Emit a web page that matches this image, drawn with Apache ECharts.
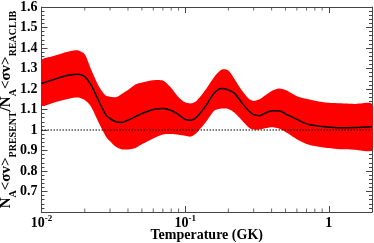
<!DOCTYPE html>
<html><head><meta charset="utf-8">
<script src="https://cdn.jsdelivr.net/npm/echarts@6/dist/echarts.min.js"></script>
<style>html,body{margin:0;padding:0;background:#fff}#c{width:374px;height:243px}</style>
</head><body><div id="c"></div>
<script>
// Temperature grid (GK)
const temperatures = [0.01,0.012,0.014,0.016,0.018,0.02,0.022,0.025,0.028,0.03,0.033,0.036,0.04,0.045,0.05,0.06,0.07,0.08,0.09,0.1,0.11,0.12,0.14,0.16,0.18,0.2,0.22,0.25,0.28,0.3,0.33,0.36,0.4,0.45,0.5,0.6,0.7,0.8,0.9,1,1.2,1.5,2];
// Central ratio
const ratioCentral = [1.227,1.245,1.260,1.269,1.272,1.260,1.222,1.143,1.075,1.055,1.040,1.037,1.048,1.065,1.080,1.100,1.105,1.095,1.075,1.052,1.048,1.062,1.120,1.182,1.202,1.195,1.180,1.130,1.090,1.075,1.070,1.082,1.094,1.094,1.078,1.052,1.030,1.022,1.017,1.014,1.011,1.012,1.016];
// Upper limit
const ratioUpper = [1.340,1.360,1.375,1.385,1.388,1.370,1.300,1.215,1.168,1.162,1.160,1.175,1.195,1.222,1.232,1.243,1.241,1.205,1.160,1.135,1.130,1.142,1.200,1.260,1.295,1.290,1.250,1.190,1.150,1.142,1.150,1.168,1.190,1.202,1.195,1.165,1.152,1.143,1.137,1.133,1.130,1.127,1.126];
// Lower limit
const ratioLower = [1.120,1.132,1.145,1.155,1.158,1.146,1.117,1.036,0.970,0.945,0.918,0.906,0.905,0.912,0.930,0.958,0.978,0.980,0.977,0.972,0.968,0.985,1.040,1.095,1.105,1.103,1.085,1.045,1.010,1.003,1.002,1.008,1.013,1.007,0.990,0.955,0.932,0.922,0.916,0.912,0.906,0.904,0.903];
const referenceLevel = 1.0;
const xMinorTicks = [0.02,0.03,0.04,0.05,0.06,0.07,0.08,0.09,0.2,0.3,0.4,0.5,0.6,0.7,0.8,0.9];
const xTickLabels = [{v:0.01,base:'10',exp:'-2'},{v:0.1,base:'10',exp:'-1'},{v:1,base:'1',exp:''}];
const yTickValues = [0.7,0.8,0.9,1,1.1,1.2,1.3,1.4,1.5,1.6];

const FONT = "'Liberation Serif','Times New Roman',serif";
const AX = '#444';
const xMin = 0.01, xMax = 2, yMin = 0.6, yMax = 1.6;

const bandData = temperatures.map((t,i)=>[t, ratioLower[i], ratioUpper[i]]);
const centralData = temperatures.map((t,i)=>[t, ratioCentral[i]]);
const refData = [[xMin, referenceLevel],[xMax, referenceLevel]];
const minorBottom = xMinorTicks.map(t=>[t, yMin]);
const minorTop = xMinorTicks.map(t=>[t, yMax]);

function xLabel(v){
  for (const l of xTickLabels){
    if (Math.abs(Math.log10(v) - Math.log10(l.v)) < 1e-6){
      return l.exp ? '{b|'+l.base+'}{s|'+l.exp+'}' : '{b|'+l.base+'}';
    }
  }
  return '';
}

function renderBand(params, api){
  if (params.dataIndex !== 0) return null;
  const up = [], lo = [];
  for (let i = 0; i < bandData.length; i++){
    up.push(api.coord([bandData[i][0], bandData[i][2]]));
    lo.push(api.coord([bandData[i][0], bandData[i][1]]));
  }
  const pts = up.concat(lo.reverse());
  return {
    type:'polygon',
    shape:{points:pts, smooth:0.25},
    style:{fill:'#ff0000', stroke:null},
    silent:true
  };
}

const chart = echarts.init(document.getElementById('c'), null, {renderer:'canvas'});
chart.setOption({
  animation:false,
  backgroundColor:'#fff',
  grid:{left:41.5, right:2, top:7, bottom:31, containLabel:false, outerBoundsMode:'none'},
  xAxis:[{
    type:'log', logBase:10, min:xMin, max:xMax, position:'bottom',
    axisLine:{show:true, lineStyle:{color:AX, width:1}},
    axisTick:{show:true, inside:true, length:6, lineStyle:{color:AX}},
    splitLine:{show:false},
    axisLabel:{show:true, margin:2, showMaxLabel:false, formatter:xLabel,
      rich:{
        b:{fontFamily:FONT, fontWeight:'bold', fontSize:14, lineHeight:14, padding:[4,0,0,0], color:'#000'},
        s:{fontFamily:FONT, fontWeight:'bold', fontSize:9, lineHeight:9, padding:[2,0,7,0], color:'#000'}
      }},
    name:'Temperature (GK)', nameLocation:'middle', nameGap:16, nameMoveOverlap:false,
    nameTextStyle:{fontFamily:FONT, fontWeight:'bold', fontSize:14, lineHeight:14, color:'#000'}
  },{
    type:'log', logBase:10, min:xMin, max:xMax, position:'top',
    axisLine:{show:true, lineStyle:{color:AX, width:1}},
    axisTick:{show:true, inside:true, length:6, lineStyle:{color:AX}},
    splitLine:{show:false}, axisLabel:{show:false}
  }],
  yAxis:[{
    type:'value', min:yMin, max:yMax, interval:0.1, position:'left',
    axisLine:{show:true, lineStyle:{color:AX, width:1}},
    axisTick:{show:true, inside:true, length:6, lineStyle:{color:AX}},
    minorTick:{show:true, splitNumber:5, length:3, lineStyle:{color:AX}},
    splitLine:{show:false},
    axisLabel:{show:true, margin:4, showMinLabel:false,
      fontFamily:FONT, fontWeight:'bold', fontSize:14, color:'#000',
      formatter:v=>{ const r=Math.round(v*10)/10; return yTickValues.some(t=>Math.abs(t-r)<1e-9)? String(r):''; }},
    name:'{m|N}{u|A}{m|<σv>}{u|PRESENT}{m|/N}{u|A}{m|<σv>}{u|REACLIB}',
    nameLocation:'middle', nameGap:24, nameRotate:90, nameMoveOverlap:false,
    nameTextStyle:{
      rich:{
        m:{fontFamily:FONT, fontWeight:'bold', fontSize:15, lineHeight:15, padding:[0,0,8,0], color:'#000'},
        u:{fontFamily:FONT, fontWeight:'bold', fontSize:10, lineHeight:10, padding:[10,0,3,0], color:'#000'}
      }}
  },{
    type:'value', min:yMin, max:yMax, interval:0.1, position:'right',
    axisLine:{show:true, lineStyle:{color:AX, width:1}},
    axisTick:{show:true, inside:true, length:6, lineStyle:{color:AX}},
    minorTick:{show:true, splitNumber:5, length:3, lineStyle:{color:AX}},
    splitLine:{show:false}, axisLabel:{show:false}
  }],
  series:[
    {type:'custom', name:'band', data:bandData, renderItem:renderBand,
     encode:{x:0, y:[1,2]}, clip:true, silent:true, z:2},
    {type:'line', name:'central', data:centralData, smooth:0.3, symbol:'none',
     lineStyle:{color:'#000', width:1.5}, silent:true, z:3},
    {type:'line', name:'reference', data:refData, symbol:'none',
     lineStyle:{color:'#000', width:1, type:[1.5,1.5]}, silent:true, z:4},
    {type:'scatter', data:minorBottom, symbol:'rect', symbolSize:[1,3.5], symbolOffset:[0,-1.75],
     itemStyle:{color:AX}, silent:true, z:5},
    {type:'scatter', data:minorTop, symbol:'rect', symbolSize:[1,3.5], symbolOffset:[0,1.75],
     itemStyle:{color:AX}, silent:true, z:5}
  ]
});
</script>
</body></html>
